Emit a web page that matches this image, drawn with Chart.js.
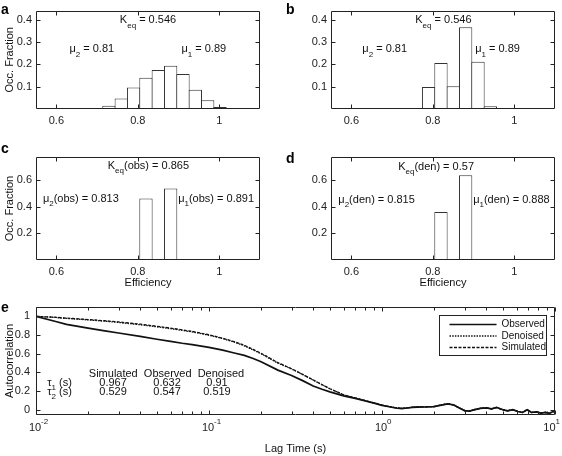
<!DOCTYPE html>
<html>
<head>
<meta charset="utf-8">
<title>Efficiency histograms and autocorrelation</title>
<script src="https://cdn.jsdelivr.net/npm/chart.js"></script>
<style>
  body { margin: 0; background: #fff; }
  #figure { position: relative; width: 562px; height: 456px; background: #fff; overflow: hidden; }
  #figure canvas { position: absolute; }
  .panel { position: absolute; font: bold 14px "Liberation Sans", Arial, sans-serif; line-height: 14px; color: #000; }
</style>
</head>
<body>
<div id="figure">
  <canvas id="histA" width="281" height="140" style="left:0;top:0"></canvas>
  <canvas id="histB" width="281" height="140" style="left:281px;top:0"></canvas>
  <canvas id="histC" width="281" height="150" style="left:0;top:140px"></canvas>
  <canvas id="histD" width="281" height="150" style="left:281px;top:140px"></canvas>
  <canvas id="acf" width="562" height="166" style="left:0;top:290px"></canvas>
  <div class="panel" style="left:1px;top:2px">a</div>
  <div class="panel" style="left:286px;top:2px">b</div>
  <div class="panel" style="left:1px;top:141px">c</div>
  <div class="panel" style="left:286px;top:151px">d</div>
  <div class="panel" style="left:1px;top:300px">e</div>
</div>
<script>
// ================================================================
// Data
// ================================================================
// efficiency bins (centres), shared by the four histograms
const binCenters = [0.6382, 0.6685, 0.6988, 0.7291, 0.7594, 0.7897, 0.8200, 0.8503,
                    0.8806, 0.9109, 0.9412, 0.9715, 1.0018, 1.0321, 1.0624, 1.0927];
const fracSimulated  = [0.0005, 0.001, 0.003, 0.014, 0.047, 0.096, 0.140, 0.174,
                        0.193, 0.157, 0.086, 0.039, 0.009, 0.004, 0.001, 0.0005];
const fracTrajectory = [0, 0, 0, 0, 0.002, 0.098, 0.206, 0.102,
                        0.366, 0.211, 0.012, 0, 0, 0, 0, 0];
const fracObserved   = [0, 0, 0, 0, 0, 0, 0.462, 0,
                        0.538, 0, 0, 0, 0, 0, 0, 0];
const fracDenoised   = [0, 0, 0, 0, 0, 0, 0.362, 0,
                        0.638, 0, 0, 0, 0, 0, 0, 0];

const effTicks = [0.6, 0.8, 1];
const fracTicksTop = [0.1, 0.2, 0.3, 0.4];
const fracTicksBottom = [0.2, 0.4, 0.6];

// autocorrelation curves
const lagTime = [0.010, 0.013, 0.015, 0.020, 0.025, 0.030, 0.040, 0.050, 0.060, 0.070,
                 0.080, 0.100, 0.120, 0.140, 0.160, 0.180, 0.200, 0.250, 0.300, 0.350,
                 0.400, 0.450, 0.500, 0.600, 0.700, 0.800, 0.900, 1.00, 1.10, 1.20,
                 1.30, 1.40, 1.50, 1.60, 1.80, 2.00, 2.20, 2.40, 2.60, 2.80,
                 3.00, 3.20, 3.40, 3.70, 4.00, 4.30, 4.60, 4.90, 5.30, 5.70,
                 6.10, 6.50, 6.90, 7.30, 7.80, 8.30, 8.80, 9.30, 9.70, 10.0];
const acfObserved = [1.000, 0.945, 0.915, 0.875, 0.845, 0.822, 0.785, 0.755, 0.732, 0.712,
                     0.698, 0.668, 0.638, 0.608, 0.582, 0.550, 0.515, 0.425, 0.368, 0.310,
                     0.255, 0.220, 0.192, 0.150, 0.122, 0.096, 0.072, 0.048, 0.033, 0.020,
                     0.014, 0.020, 0.026, 0.030, 0.031, 0.034, 0.050, 0.064, 0.052, 0.020,
                     -0.008, -0.014, 0.000, 0.016, 0.022, 0.010, 0.026, 0.006, -0.010, 0.002,
                     -0.018, -0.028, 0.002, -0.028, -0.022, -0.034, -0.028, -0.036, -0.020, -0.015];
const acfDenoised = [1.000, 0.988, 0.978, 0.962, 0.948, 0.935, 0.910, 0.888, 0.868, 0.850,
                     0.833, 0.798, 0.762, 0.725, 0.685, 0.640, 0.600, 0.500, 0.438, 0.375,
                     0.318, 0.268, 0.225, 0.160, 0.126, 0.098, 0.073, 0.050, 0.036, 0.024,
                     0.017, 0.023, 0.029, 0.033, 0.034, 0.036, 0.053, 0.066, 0.054, 0.018,
                     -0.006, -0.012, 0.003, 0.018, 0.020, 0.012, 0.024, 0.008, -0.008, 0.000,
                     -0.016, -0.025, 0.000, -0.025, -0.024, -0.031, -0.030, -0.033, -0.022, -0.012];
const acfSimulated = [1.000, 0.990, 0.981, 0.966, 0.953, 0.940, 0.916, 0.894, 0.874, 0.856,
                      0.839, 0.803, 0.766, 0.729, 0.690, 0.646, 0.605, 0.505, 0.440, 0.377,
                      0.320, 0.270, 0.226, 0.161, 0.127, 0.099, 0.074, 0.051, 0.034, 0.022,
                      0.016, 0.021, 0.027, 0.031, 0.033, 0.035, 0.051, 0.065, 0.050, 0.022,
                      -0.010, -0.016, 0.001, 0.014, 0.024, 0.008, 0.027, 0.004, -0.012, 0.003,
                      -0.020, -0.030, 0.004, -0.030, -0.020, -0.036, -0.026, -0.038, -0.018, -0.017];
const acfYTicks = [0, 0.2, 0.4, 0.6, 0.8, 1];
const lagTicks = [0.01, 0.1, 1, 10];
const lagExponents = ['-2', '-1', '0', '1'];

// fitted numbers printed on the panels
const tableHead = 'Simulated  Observed  Denoised';
const tau1 = ['0.967', '0.632', '0.91'];
const tau2 = ['0.529', '0.547', '0.519'];

// ================================================================
// Helpers / plugins
// ================================================================
const FONT = '"Liberation Sans", Arial, Helvetica, sans-serif';
Chart.defaults.font.family = FONT;
Chart.defaults.font.size = 11;
Chart.defaults.color = '#111';

// text with subscripts: parts = [[text, isSub], ...], y is the baseline
function drawRich(ctx, parts, x, y, align) {
  const big = '11px ' + FONT, small = '8px ' + FONT;
  let w = 0;
  parts.forEach(p => { ctx.font = p[1] ? small : big; w += ctx.measureText(p[0]).width; });
  let cx = align === 'center' ? x - w / 2 : x;
  parts.forEach(p => {
    ctx.font = p[1] ? small : big;
    ctx.fillText(p[0], cx, p[1] ? y + 4.5 : y);
    cx += ctx.measureText(p[0]).width;
  });
}

const richText = {
  id: 'richText',
  afterDraw(chart, args, opts) {
    const {ctx, scales: {x, y}} = chart;
    ctx.save();
    ctx.fillStyle = '#111';
    ctx.textBaseline = 'alphabetic';
    ctx.textAlign = 'left';
    (opts.items || []).forEach(it => {
      drawRich(ctx, it.parts, x.getPixelForValue(it.x), y.getPixelForValue(it.y), it.align);
    });
    ctx.restore();
  }
};

// matlab style box with inward ticks on all four sides
const matlabAxes = {
  id: 'matlabAxes',
  afterDatasetsDraw(chart) {
    const {ctx, chartArea: a, scales: {x, y}} = chart;
    const L = Math.round(a.left) + 0.5, R = Math.round(a.right) - 0.5;
    const T = Math.round(a.top) + 0.5, B = Math.round(a.bottom) - 0.5;
    ctx.save();
    ctx.strokeStyle = '#222';
    ctx.lineWidth = 1;
    ctx.beginPath();
    ctx.rect(L, T, R - L, B - T);
    const xt = (v, len) => {
      const p = Math.round(x.getPixelForValue(v)) + 0.5;
      ctx.moveTo(p, B); ctx.lineTo(p, B - len);
      ctx.moveTo(p, T); ctx.lineTo(p, T + len);
    };
    x.ticks.forEach(t => xt(t.value, 4));
    if (x.type === 'logarithmic') {
      for (let d = 0.01; d < 9; d *= 10) {
        for (let m = 2; m <= 9; m++) xt(d * m, 3);
      }
    }
    y.ticks.forEach(t => {
      const p = Math.round(y.getPixelForValue(t.value)) + 0.5;
      ctx.moveTo(L, p); ctx.lineTo(L + 4, p);
      ctx.moveTo(R, p); ctx.lineTo(R - 4, p);
    });
    ctx.stroke();
    ctx.restore();
  }
};

const plainLabel = v => String(v);

// ================================================================
// Histograms a-d
// ================================================================
function histogram(id, values, cfg) {
  return new Chart(document.getElementById(id), {
    type: 'bar',
    data: {
      datasets: [{
        data: binCenters.map((c, i) => ({x: c, y: values[i]})),
        backgroundColor: '#fff',
        borderColor: '#333',
        borderWidth: 1,
        barPercentage: 1.08,
        categoryPercentage: 1
      }]
    },
    options: {
      responsive: false,
      animation: false,
      layout: {padding: {top: cfg.top, right: cfg.right, left: 0, bottom: 0}},
      plugins: {
        legend: {display: false},
        tooltip: {enabled: false},
        richText: {items: cfg.notes}
      },
      scales: {
        x: {
          type: 'linear', min: 0.55, max: 1.1, offset: false,
          grid: {display: false, drawTicks: false}, border: {display: false},
          ticks: {padding: 5, color: '#222', callback: plainLabel},
          afterBuildTicks: s => { s.ticks = effTicks.map(v => ({value: v})); },
          afterFit: s => { s.height = cfg.xHeight; },
          title: {display: cfg.xTitle, text: 'Efficiency', padding: {top: 0, bottom: 0}}
        },
        y: {
          min: 0, max: cfg.yMax,
          grid: {display: false, drawTicks: false}, border: {display: false},
          ticks: {padding: 4, color: '#222', callback: plainLabel},
          afterBuildTicks: s => { s.ticks = cfg.yTicks.map(v => ({value: v})); },
          afterFit: s => { s.width = cfg.yWidth; },
          title: {display: cfg.yTitle, text: 'Occ. Fraction', padding: {top: 3, bottom: 0}}
        }
      }
    },
    plugins: [matlabAxes, richText]
  });
}

histogram('histA', fracSimulated, {
  top: 5, right: 21, xHeight: 31, yWidth: 36, yMax: 0.44, yTicks: fracTicksTop,
  xTitle: false, yTitle: true,
  notes: [
    {x: 0.825, y: 0.384, align: 'center', parts: [['K'], ['eq', 1], [' = 0.546']]},
    {x: 0.632, y: 0.253, parts: [['\u03bc'], ['2', 1], [' = 0.81']]},
    {x: 0.907, y: 0.253, parts: [['\u03bc'], ['1', 1], [' = 0.89']]}
  ]
});

histogram('histB', fracTrajectory, {
  top: 5, right: 7, xHeight: 31, yWidth: 50, yMax: 0.44, yTicks: fracTicksTop,
  xTitle: false, yTitle: false,
  notes: [
    {x: 0.826, y: 0.384, align: 'center', parts: [['K'], ['eq', 1], [' = 0.546']]},
    {x: 0.627, y: 0.253, parts: [['\u03bc'], ['2', 1], [' = 0.81']]},
    {x: 0.904, y: 0.253, parts: [['\u03bc'], ['1', 1], [' = 0.89']]}
  ]
});

histogram('histC', fracObserved, {
  top: 17, right: 21, xHeight: 30, yWidth: 36, yMax: 0.775, yTicks: fracTicksBottom,
  xTitle: true, yTitle: true,
  notes: [
    {x: 0.826, y: 0.685, align: 'center', parts: [['K'], ['eq', 1], ['(obs) = 0.865']]},
    {x: 0.567, y: 0.44, parts: [['\u03bc'], ['2', 1], ['(obs) = 0.813']]},
    {x: 0.899, y: 0.44, parts: [['\u03bc'], ['1', 1], ['(obs) = 0.891']]}
  ]
});

histogram('histD', fracDenoised, {
  top: 17, right: 7, xHeight: 30, yWidth: 50, yMax: 0.775, yTicks: fracTicksBottom,
  xTitle: true, yTitle: false,
  notes: [
    {x: 0.808, y: 0.68, align: 'center', parts: [['K'], ['eq', 1], ['(den) = 0.57']]},
    {x: 0.568, y: 0.43, parts: [['\u03bc'], ['2', 1], ['(den) = 0.815']]},
    {x: 0.899, y: 0.43, parts: [['\u03bc'], ['1', 1], ['(den) = 0.888']]}
  ]
});

// ================================================================
// Autocorrelation e
// ================================================================
const acfLegend = {
  id: 'acfLegend',
  afterDraw(chart) {
    const {ctx, chartArea: a} = chart;
    const w = 107, h = 40;
    const right = Math.round(a.right) - 8.5, top = Math.round(a.top) + 8.5;
    const left = right - w;
    ctx.save();
    ctx.fillStyle = '#fff';
    ctx.fillRect(left, top, w, h);
    ctx.strokeStyle = '#222';
    ctx.lineWidth = 1;
    ctx.strokeRect(left, top, w, h);
    ctx.font = '10px ' + FONT;
    ctx.textBaseline = 'middle';
    chart.data.datasets.forEach((ds, i) => {
      const yy = top + 9 + i * 11.5;
      ctx.beginPath();
      ctx.setLineDash(ds.borderDash || []);
      ctx.lineWidth = ds.borderWidth;
      ctx.strokeStyle = ds.borderColor;
      ctx.moveTo(left + 10, yy);
      ctx.lineTo(left + 57, yy);
      ctx.stroke();
      ctx.setLineDash([]);
      ctx.fillStyle = '#111';
      ctx.fillText(ds.label, left + 62, yy);
    });
    ctx.restore();
  }
};

// 10^n labels under the log axis
const lagLabels = {
  id: 'lagLabels',
  afterDraw(chart) {
    const {ctx, chartArea: a, scales: {x}} = chart;
    ctx.save();
    ctx.fillStyle = '#222';
    ctx.textBaseline = 'middle';
    lagTicks.forEach((v, i) => {
      ctx.font = '11px ' + FONT;
      const w = ctx.measureText('10').width;
      ctx.font = '8px ' + FONT;
      const ew = ctx.measureText(lagExponents[i]).width;
      const cx = Math.min(x.getPixelForValue(v) - 1, chart.width - 2 - w / 2 - ew);
      ctx.textAlign = 'left';
      ctx.fillText(lagExponents[i], cx + w / 2, a.bottom + 7);
      ctx.font = '11px ' + FONT;
      ctx.textAlign = 'center';
      ctx.fillText('10', cx, a.bottom + 13);
    });
    ctx.restore();
  }
};

const tableNotes = [
  {x: 0.0202, y: 0.354, parts: [[tableHead]]},
  {x: 0.0116, y: 0.258, parts: [['\u03c4'], ['1', 1], [' (s)']]},
  {x: 0.0116, y: 0.160, parts: [['\u03c4'], ['2', 1], [' (s)']]},
  {x: 0.0279, y: 0.258, align: 'center', parts: [[tau1[0]]]},
  {x: 0.0572, y: 0.258, align: 'center', parts: [[tau1[1]]]},
  {x: 0.1112, y: 0.258, align: 'center', parts: [[tau1[2]]]},
  {x: 0.0279, y: 0.160, align: 'center', parts: [[tau2[0]]]},
  {x: 0.0572, y: 0.160, align: 'center', parts: [[tau2[1]]]},
  {x: 0.1112, y: 0.160, align: 'center', parts: [[tau2[2]]]}
];

const toPoints = vals => lagTime.map((t, i) => ({x: t, y: vals[i]}));

new Chart(document.getElementById('acf'), {
  type: 'line',
  data: {
    datasets: [
      {label: 'Observed', data: toPoints(acfObserved), borderColor: '#111', borderWidth: 1.7,
       pointRadius: 0, tension: 0},
      {label: 'Denoised', data: toPoints(acfDenoised), borderColor: '#111', borderWidth: 1.3,
       borderDash: [1.5, 1.2], pointRadius: 0, tension: 0},
      {label: 'Simulated', data: toPoints(acfSimulated), borderColor: '#111', borderWidth: 1.3,
       borderDash: [3, 1.5], pointRadius: 0, tension: 0}
    ]
  },
  options: {
    responsive: false,
    animation: false,
    layout: {padding: {top: 17, right: 7, left: 0, bottom: 0}},
    plugins: {
      legend: {display: false},
      tooltip: {enabled: false},
      richText: {items: tableNotes}
    },
    scales: {
      x: {
        type: 'logarithmic', min: 0.01, max: 10,
        grid: {display: false, drawTicks: false}, border: {display: false},
        ticks: {display: false},
        afterBuildTicks: s => { s.ticks = lagTicks.map(v => ({value: v, major: true})); },
        afterFit: s => { s.height = 41; },
        title: {display: true, text: 'Lag Time (s)', padding: {top: 0, bottom: 0}}
      },
      y: {
        min: -0.055, max: 1.1,
        grid: {display: false, drawTicks: false}, border: {display: false},
        ticks: {padding: 6, color: '#222', callback: plainLabel},
        afterBuildTicks: s => { s.ticks = acfYTicks.map(v => ({value: v})); },
        afterFit: s => { s.width = 36; },
        title: {display: true, text: 'Autocorrelation', padding: {top: 3, bottom: 0}}
      }
    }
  },
  plugins: [matlabAxes, richText, acfLegend, lagLabels]
});
</script>
</body>
</html>
